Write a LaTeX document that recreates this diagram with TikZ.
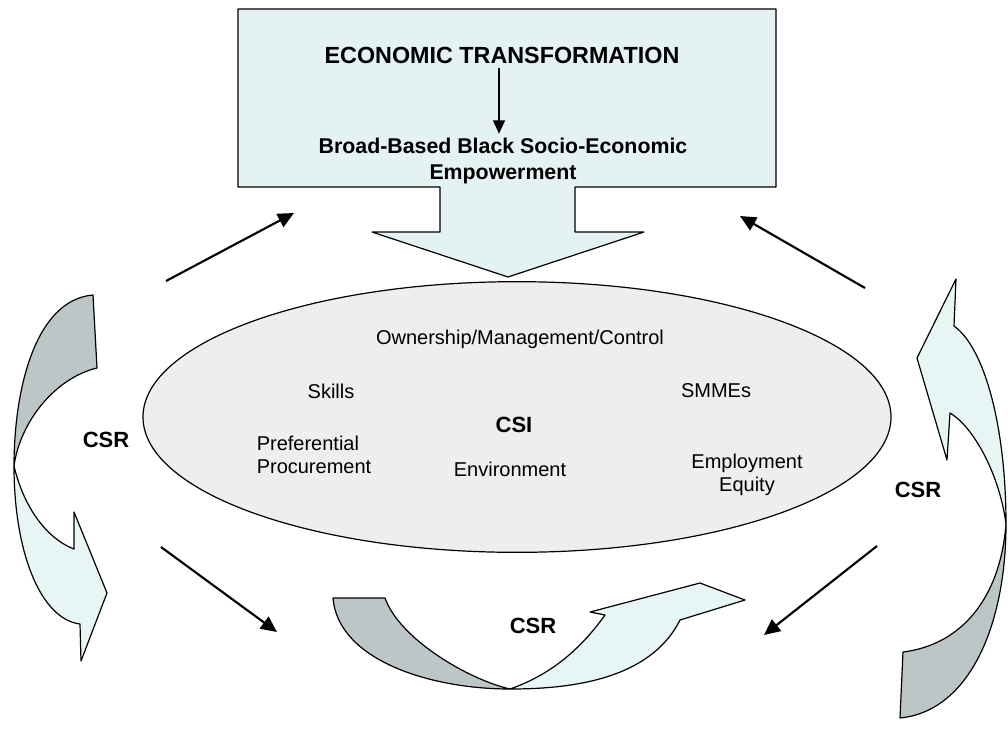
\documentclass[tikz,border=0pt]{standalone}
\usepackage{fontspec}
\setmainfont{Liberation Sans}
\usetikzlibrary{arrows.meta,shapes.geometric}

\definecolor{boxfill}{HTML}{E4F2F3}
\definecolor{backside}{HTML}{BDC6C6}
\definecolor{frontside}{HTML}{E8F5F5}
\definecolor{ovalfill}{HTML}{EEEEEE}

\begin{document}
\begin{tikzpicture}[x=0.75pt,y=-0.75pt,
	link/.style={line width=1.6pt, arrows={-{Triangle[length=12pt,width=11pt]}}},
	ribbon/.style={draw, line width=0.9pt, line join=round},
	item/.style={font=\fontsize{15}{17}\selectfont},
	tag/.style={font=\bfseries\fontsize{16.5}{19}\selectfont}]
	\useasboundingbox (0,0) rectangle (1008,751);

	% top box with block arrow
	\draw[ribbon, fill=boxfill] (238,9) -- (776,9) -- (776,187) -- (575,187) -- (575,232) -- (644,232) -- (508,277) -- (372,232) -- (440,232) -- (440,187) -- (238,187) -- cycle;
	\node[font=\bfseries\fontsize{17.5}{20}\selectfont] (econ) at (502,55) {ECONOMIC TRANSFORMATION};
	\node[font=\bfseries\fontsize{16}{19}\selectfont, align=center] (bbbee) at (503,161) {Broad-Based Black Socio-Economic\\Empowerment};
	\draw[line width=1.2pt, arrows={-{Triangle[length=10pt,width=9pt]}}] (econ.south -| 499,0) -- (bbbee.north -| 499,0);

	% the oval
	\node[ellipse, draw, line width=0.9pt, fill=ovalfill, minimum width=561pt, minimum height=203pt] (oval) at (517,417) {};
	\node[item] (own) at (520,339) {Ownership/Management/Control};
	\node[item] (skills) at (331,391) {Skills};
	\node[item] (smme) at (716,391) {SMMEs};
	\node[tag] (csi) at (514,425) {CSI};
	\node[item, align=left] (pref) at (314,455) {Preferential\\Procurement};
	\node[item] (env) at (510,469) {Environment};
	\node[item, align=center] (empl) at (747,475) {Employment\\Equity};

	% left ribbon
	\draw[ribbon, fill=backside] (93,295) .. controls (35,300) and (14,390) .. (14,466) .. controls (20,422) and (55,378) .. (97,368) -- cycle;
	\draw[ribbon, fill=frontside] (14,466) .. controls (14,551) and (40,619) .. (80,624) -- (81,661) -- (107,593) -- (74,512) -- (74,549) .. controls (50,540) and (25,512) .. (14,466) -- cycle;
	\node[tag] (csrl) at (106,440) {CSR};

	% right ribbon
	\draw[ribbon, fill=frontside] (954,326) .. controls (985,348) and (1006,428) .. (1006,524) .. controls (1000,477) and (975,428) .. (950,413) -- (947,460) -- (917,358) -- (956,279) -- cycle;
	\draw[ribbon, fill=backside] (1006,524) .. controls (1006,624) and (970,711) .. (900,718) -- (903,652) .. controls (960,645) and (1000,600) .. (1006,524) -- cycle;
	\node[tag] (csrr) at (918,490) {CSR};

	% bottom ribbon
	\draw[ribbon, fill=backside] (333,598) .. controls (338,660) and (430,689) .. (510,689) .. controls (470,680) and (400,640) .. (385,598) -- cycle;
	\draw[ribbon, fill=frontside] (510,689) .. controls (570,689) and (650,680) .. (680,620) -- (745,600) -- (700,583) -- (590,612) -- (605,615) .. controls (580,650) and (550,675) .. (510,689) -- cycle;
	\node[tag] (csrb) at (533,626) {CSR};

	% straight arrows
	\coordinate (tlfrom) at (166,281);
	\coordinate (tlto) at (294,213);
	\coordinate (trfrom) at (865,288);
	\coordinate (trto) at (740,216);
	\coordinate (blfrom) at (161,547);
	\coordinate (blto) at (277,632);
	\coordinate (brfrom) at (877,546);
	\coordinate (brto) at (764,635);
	\draw[link] (tlfrom) -- (tlto);
	\draw[link] (trfrom) -- (trto);
	\draw[link] (blfrom) -- (blto);
	\draw[link] (brfrom) -- (brto);
\end{tikzpicture}
\end{document}
